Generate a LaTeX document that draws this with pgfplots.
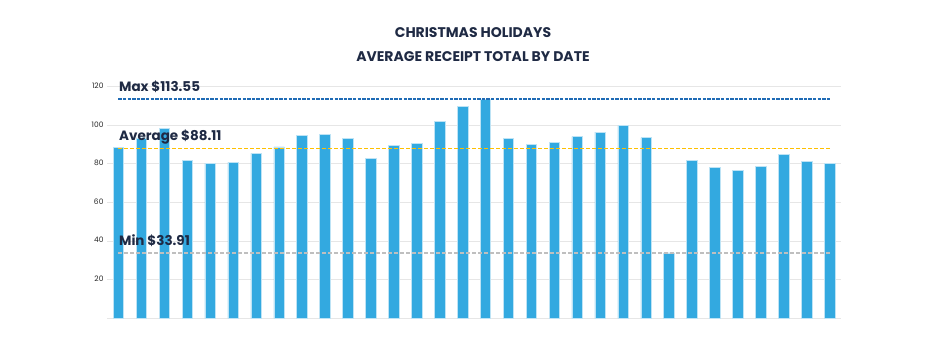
\documentclass[border=0pt]{standalone}
\usepackage{fontspec}
\setmainfont{Poppins}
\usepackage{pgfplots}
\pgfplotsset{compat=1.18}
\definecolor{barblue}{HTML}{33A9E0}
\definecolor{baredge}{HTML}{BDE3F5}
\definecolor{navy}{HTML}{1F2A44}
\definecolor{maxblue}{HTML}{1F6BB5}
\definecolor{avggold}{HTML}{FFC000}
\definecolor{mingray}{HTML}{BFBFBF}
\definecolor{gridgray}{HTML}{E6E6E6}
\begin{document}
\begin{tikzpicture}[x=1pt,y=1pt]
\path[use as bounding box] (0,0) rectangle (946,361);
\node[inner sep=0, font=\bfseries\fontsize{14}{16}\selectfont, text=navy] at (473,328) {CHRISTMAS HOLIDAYS};
\node[inner sep=0, font=\bfseries\fontsize{14}{16}\selectfont, text=navy] at (473,304.5) {AVERAGE RECEIPT TOTAL BY DATE};
\begin{axis}[
  at={(107pt,42.7pt)}, anchor=south west,
  scale only axis, width=734pt, height=231.6pt,
  xmin=-0.5, xmax=31.5, ymin=0, ymax=120,
  axis line style={draw=none},
  xtick=\empty,
  ytick={0,20,40,60,80,100,120},
  yticklabels={,20,40,60,80,100,120},
  major tick length=0pt,
  ymajorgrids, grid style={draw=gridgray, line width=0.9pt},
  tick label style={font=\fontsize{7.5}{9}\selectfont, text=black!85},
  yticklabel style={yshift=1pt},
  /pgf/number format/assume math mode=true,
  clip=false,
]
\addplot[ybar, bar width=10.5pt, fill=barblue, draw=baredge, line width=0.5pt] coordinates {
(0,88.6) (1,93.5) (2,98.3) (3,81.9) (4,80.3) (5,80.8) (6,85.5) (7,88.8)
(8,94.6) (9,95.3) (10,93.3) (11,82.9) (12,89.5) (13,90.5) (14,101.9) (15,109.7)
(16,113.55) (17,93.1) (18,90.0) (19,91.0) (20,94.1) (21,96.4) (22,99.8) (23,93.6)
(24,33.91) (25,81.9) (26,78.1) (27,76.7) (28,78.6) (29,84.8) (30,81.2) (31,80.1)
};
\addplot[draw=maxblue, line width=1.3pt, dash pattern=on 3.3pt off 1.3pt] coordinates {(0,113.55) (31,113.55)}
  node[pos=0, anchor=base west, inner sep=0pt, yshift=7.5pt, font=\bfseries\fontsize{13.5}{15}\selectfont, text=navy] {Max \$113.55};
\addplot[draw=avggold, line width=1.3pt, dash pattern=on 4pt off 2pt] coordinates {(0,88.11) (31,88.11)}
  node[pos=0, anchor=base west, inner sep=0pt, yshift=7.5pt, font=\bfseries\fontsize{13.5}{15}\selectfont, text=navy] {Average \$88.11};
\addplot[draw=mingray, line width=1.3pt, dash pattern=on 4pt off 2pt] coordinates {(0,33.91) (31,33.91)}
  node[pos=0, anchor=base west, inner sep=0pt, yshift=7.5pt, font=\bfseries\fontsize{13.5}{15}\selectfont, text=navy] {Min \$33.91};
\end{axis}
\end{tikzpicture}
\end{document}
